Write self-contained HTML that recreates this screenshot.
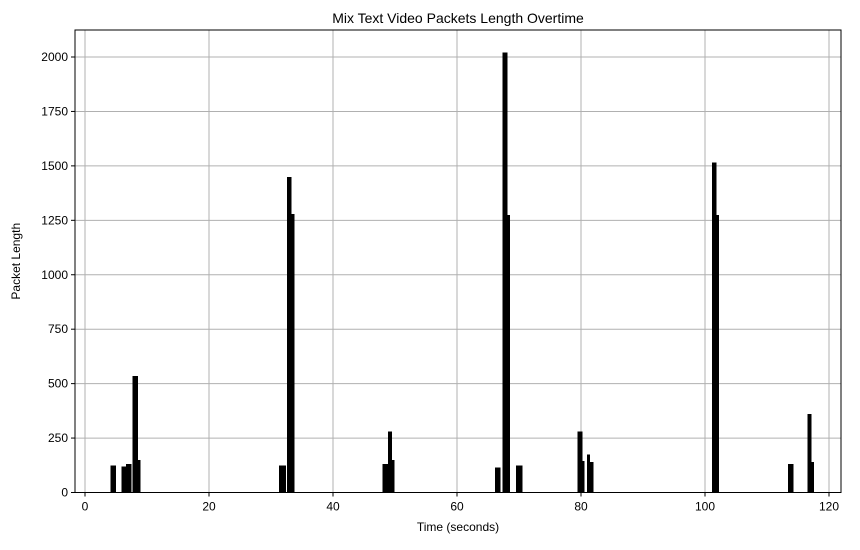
<!DOCTYPE html>
<html><head><meta charset="utf-8"><style>body{margin:0;background:#fff}svg{font-family:"Liberation Sans","DejaVu Sans",sans-serif}</style></head>
<body>
<svg id="c" width="860" height="545">
<rect width="860" height="545" fill="#fff"/>
</svg>
<script>
const startTimes=[4.1,5.9,6.6,7.7,8.5,31.3,32.6,33.2,48.0,48.9,49.4,66.1,67.3,68.1,69.5,79.4,80.2,81.0,81.4,101.1,101.8,113.4,116.5,117.1];
const endTimes  =[4.9,6.6,7.4,8.5,8.9,32.3,33.2,33.7,48.8,49.4,49.8,66.9,68.1,68.5,70.5,80.2,80.5,81.4,81.9,101.8,102.2,114.2,117.1,117.5];
const values    =[125,120,130,535,150,125,1450,1280,130,280,150,115,2020,1275,125,280,145,175,140,1515,1275,130,360,140];
const xTicks=[0,20,40,60,80,100,120];
const yTicks=[0,250,500,750,1000,1250,1500,1750,2000];
const NS='http://www.w3.org/2000/svg',svg=document.getElementById('c');
const L=75,R=841,T=30,B=492.5;
const x=t=>85+t*6.2, y=v=>B-v*((B-57)/2000);
function el(tag,a,txt){const e=document.createElementNS(NS,tag);for(const k in a)e.setAttribute(k,a[k]);if(txt!==undefined)e.textContent=txt;svg.appendChild(e);return e;}
xTicks.forEach(t=>{const g=el('line',{x1:x(t),x2:x(t),y1:T,y2:B,stroke:'#b0b0b0','stroke-width':1});


el('line',{x1:x(t),x2:x(t),y1:B,y2:B+4,stroke:'#000'});
const l=el('text',{x:x(t),y:B+18,'text-anchor':'middle','font-size':12},t);

});
yTicks.forEach(v=>{const g=el('line',{x1:L,x2:R,y1:y(v),y2:y(v),stroke:'#b0b0b0','stroke-width':1});


el('line',{x1:L-4,x2:L,y1:y(v),y2:y(v),stroke:'#000'});
const l=el('text',{x:L-7,y:y(v)+4,'text-anchor':'end','font-size':12},v);

});
values.forEach((v,i)=>{const r=el('rect',{x:x(startTimes[i]),y:y(v),width:Math.max(1,x(endTimes[i])-x(startTimes[i]))+0.5,height:B-y(v),fill:'#000','shape-rendering':'crispEdges'});

});
const f=el('rect',{x:L,y:T,width:R-L,height:B-T,fill:'none',stroke:'#000','stroke-width':1});


const t1=el('text',{x:(L+R)/2,y:23,'text-anchor':'middle','font-size':14},'Mix Text Video Packets Length Overtime');


const t2=el('text',{x:(L+R)/2,y:531,'text-anchor':'middle','font-size':12},'Time (seconds)');


const t3=el('text',{x:20,y:(T+B)/2,'text-anchor':'middle','font-size':12,transform:`rotate(-90 20 ${(T+B)/2})`},'Packet Length');


</script>
</body></html>
